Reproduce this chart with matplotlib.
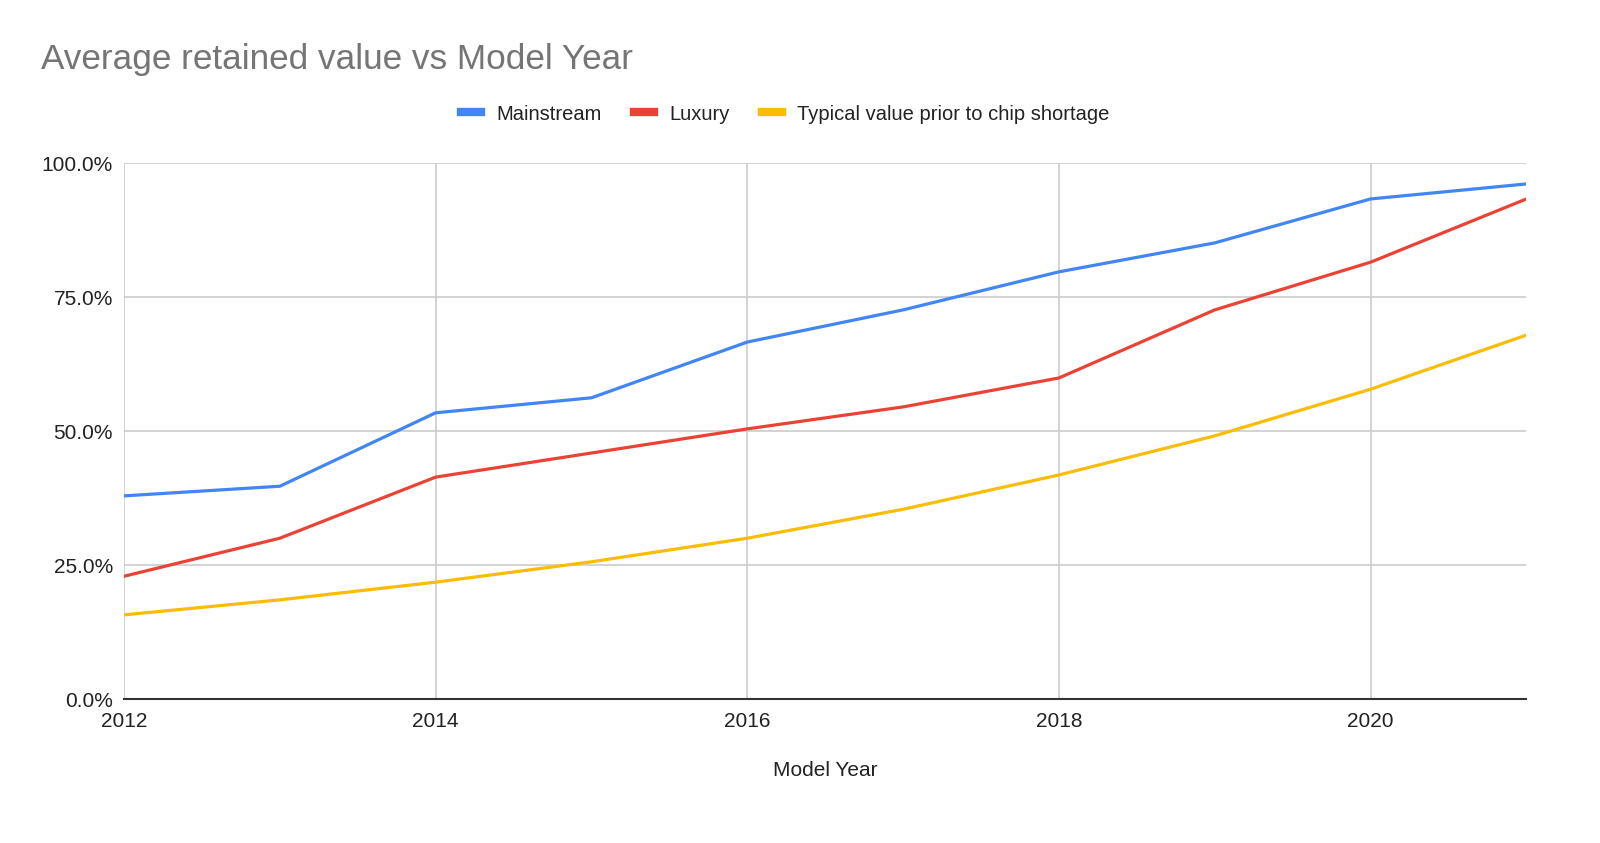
import matplotlib
matplotlib.use("Agg")
import matplotlib.pyplot as plt
from matplotlib.ticker import FuncFormatter

years = [2012, 2013, 2014, 2015, 2016, 2017, 2018, 2019, 2020, 2021]
mainstream = [37.9, 39.7, 53.4, 56.2, 66.6, 72.6, 79.7, 85.1, 93.3, 96.1]
luxury = [22.9, 30.0, 41.4, 45.9, 50.4, 54.5, 59.9, 72.6, 81.5, 93.3]
typical = [15.7, 18.5, 21.8, 25.6, 30.0, 35.4, 41.8, 49.1, 57.8, 67.9]
series_names = ["Mainstream", "Luxury", "Typical value prior to chip shortage"]
colors = ["#4285F4", "#EA4335", "#FBBC04"]
x_ticks = [2012, 2014, 2016, 2018, 2020]
y_ticks = [0, 25, 50, 75, 100]

plt.rcParams['font.family'] = ['Liberation Sans', 'DejaVu Sans']

fig = plt.figure(figsize=(16, 8.43), dpi=100)
ax = fig.add_axes([0.0775, 0.1708, 0.954 - 0.0775, 0.8066 - 0.1708])

for vals, name, c in zip([mainstream, luxury, typical], series_names, colors):
    ax.plot(years, vals, color=c, lw=2.3, label=name, solid_joinstyle='round')

ax.set_xlim(2012, 2021)
ax.set_ylim(0, 100)
ax.set_xticks(x_ticks)
ax.set_yticks(y_ticks)
ax.yaxis.set_major_formatter(FuncFormatter(lambda v, p: f"{v:.1f}%"))
ax.grid(True, color="#cccccc", lw=1.2)
ax.set_axisbelow(True)
for s in ["top", "right", "left"]:
    ax.spines[s].set_visible(False)
ax.spines["bottom"].set_color("#333333")
ax.spines["bottom"].set_linewidth(1.5)
ax.spines["bottom"].set_zorder(5)
ax.tick_params(axis="both", length=0, labelsize=15, colors="#222222")
ax.tick_params(axis="x", pad=9)
ax.tick_params(axis="y", pad=8)
ax.set_xlabel("Model Year", fontsize=15, color="#222222", labelpad=22)

fig.text(41 / 1600, 1 - 59 / 843, "Average retained value vs Model Year", fontsize=25.3,
         color="#757575", ha="left", va="center")

leg = fig.legend(loc="center", bbox_to_anchor=(785 / 1600, 1 - 114 / 843), ncol=3,
                 frameon=False, fontsize=14.5, handlelength=1.0, handletextpad=0.75,
                 columnspacing=1.6)
for h in leg.get_lines():
    h.set_linewidth(6)
for t in leg.get_texts():
    t.set_color("#222222")

fig.savefig("out.png", dpi=100, facecolor="white")
